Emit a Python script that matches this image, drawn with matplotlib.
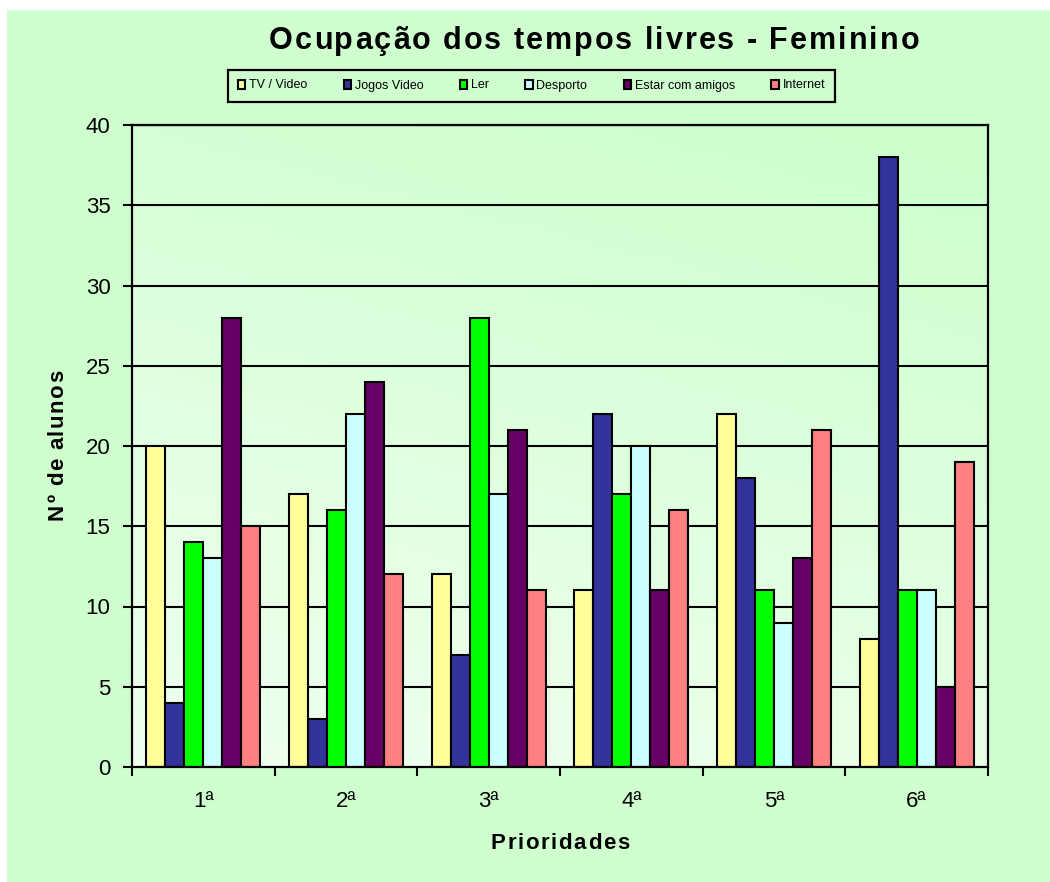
import numpy as np
import matplotlib
matplotlib.use('Agg')
import matplotlib.pyplot as plt
from matplotlib.colors import LinearSegmentedColormap
from matplotlib.font_manager import FontProperties, findfont
from matplotlib.ft2font import FT2Font

plt.rcParams['font.family'] = ['Liberation Sans', 'DejaVu Sans']

prioridades = ['1ª', '2ª', '3ª', '4ª', '5ª', '6ª']
series = ['TV / Video', 'Jogos Video', 'Ler', 'Desporto', 'Estar com amigos', 'Internet']
tv = [20, 17, 12, 11, 22, 8]
jogos = [4, 3, 7, 22, 18, 38]
ler = [14, 16, 28, 17, 11, 11]
desporto = [13, 22, 17, 20, 9, 11]
amigos = [28, 24, 21, 11, 13, 5]
internet = [15, 12, 11, 16, 21, 19]
cores = ['#ffff99', '#333399', '#00ff00', '#ccffff', '#660066', '#ff8080']

W, H = 1050, 882
DPI = 100
fig = plt.figure(figsize=(W / DPI, H / DPI), dpi=DPI, facecolor='white')


def tracked(cx, cy, s, size, track, rotation=0):
    # bold text with extra letter spacing (pixels), centred on (cx, cy) in pixels
    fp = FontProperties(family='Liberation Sans', weight='bold', size=size)
    f = FT2Font(findfont(fp))
    f.set_size(size, DPI)
    adv = [f.load_char(ord(c)).linearHoriAdvance / 65536.0 for c in s]
    total = sum(adv) + track * (len(s) - 1)
    pos = -total / 2.0
    for c, a in zip(s, adv):
        mid = pos + a / 2.0
        if c != ' ':
            if rotation == 90:
                x, y = cx, cy - mid
            else:
                x, y = cx + mid, cy
            fig.text(x / W, 1 - y / H, c, fontproperties=fp, ha='center', va='baseline',
                     rotation=rotation, rotation_mode='anchor')
        pos += a + track


# chart area background (white margin top/left)
bg = fig.add_axes([7 / W, 0, 1 - 7 / W, 1 - 10 / H], zorder=-10)
bg.set_facecolor('#cfffcf')
bg.set_xticks([])
bg.set_yticks([])
for s in bg.spines.values():
    s.set_visible(False)

ax = fig.add_axes([132 / W, 1 - 767 / H, (988 - 132) / W, (767 - 125) / H])
ax.set_facecolor('none')

# gradient in plot area
cmap = LinearSegmentedColormap.from_list('bg', ['#f0fff0', '#ccffcc'])
yy, xx = np.mgrid[0:1:100j, 0:1:100j]
grad = 0.75 * yy + 0.25 * xx
ax.imshow(grad, extent=(0.5, 6.5, 0, 40), origin='lower', aspect='auto', cmap=cmap,
          vmin=0, vmax=1, zorder=0)

dados = [tv, jogos, ler, desporto, amigos, internet]
x = np.arange(1, len(prioridades) + 1)
bw = 0.133
for i, (nome, vals, cor) in enumerate(zip(series, dados, cores)):
    ax.bar(x + (i - 2.5) * bw, vals, width=bw, color=cor, edgecolor='black',
           linewidth=1.5, label=nome, zorder=3)

ax.set_xlim(0.5, 6.5)
ax.set_ylim(0, 40)
ax.set_yticks(range(0, 41, 5))
for v in range(5, 41, 5):
    ax.axhline(v, color='black', lw=1.5, zorder=1)
ax.tick_params(axis='y', direction='out', length=6.5, width=1.5, labelsize=16, pad=9)

ax.set_xticks(np.arange(0.5, 7, 1))
ax.set_xticklabels([])
ax.set_xticks(x, minor=True)
ax.set_xticklabels(prioridades, minor=True, fontsize=16)
ax.tick_params(axis='x', which='major', direction='out', length=6.5, width=1.5)
ax.tick_params(axis='x', which='minor', length=0, pad=17)

for s in ax.spines.values():
    s.set_linewidth(1.6)
    s.set_color('black')
    s.set_zorder(4)

tracked(594, 49, 'Ocupação dos tempos livres - Feminino', 22, 2.0)
tracked(560, 849, 'Prioridades', 16, 1.6)
tracked(63, 445, 'Nº de alunos', 16, 1.4, rotation=90)

leg = fig.legend(loc='center', bbox_to_anchor=(531.5 / W, 1 - 85.5 / H), ncol=6, fontsize=9,
                 frameon=True, fancybox=False, edgecolor='black', facecolor='#cfffcf',
                 handlelength=0.6, handleheight=0.7, handletextpad=0.3, columnspacing=2.9,
                 borderpad=0.8, framealpha=1)
leg.get_frame().set_linewidth(1.6)
for h in leg.legend_handles:
    h.set_linewidth(1.5)

fig.savefig('out.png', dpi=DPI, facecolor=fig.get_facecolor())
